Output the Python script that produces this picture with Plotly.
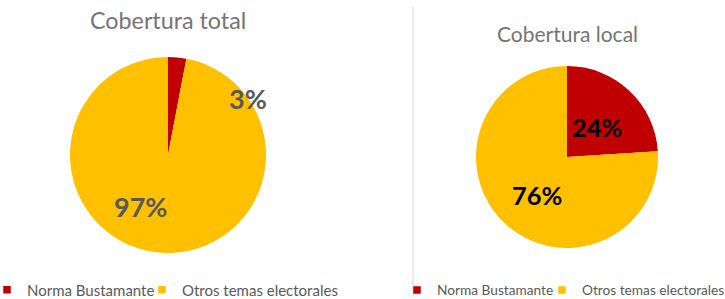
import math
import plotly.graph_objects as go

# ---- data ----
categories = ["Norma Bustamante", "Otros temas electorales"]
total_values = [3, 97]
local_values = [24, 76]
chart_titles = ["Cobertura total", "Cobertura local"]

# ---- style / layout ----
W, H = 725, 299
colors = ["#C00000", "#FFC000"]
FONT = "Lato"
# pie geometry in pixels (center x, center y from top, radius)
pies = [
    dict(cx=168, cy=155, r=98, values=total_values, title=chart_titles[0],
         title_y=20, title_size=23.3, label_color="#595959", label_size=27,
         label_nudge=[(1.0, 49.6), (0.59, 22.6)],
         legends=[("legend", -13), ("legend2", 142)], legend_font=15),
    dict(cx=567, cy=157, r=91, values=local_values, title=chart_titles[1],
         title_y=33, title_size=21, label_color="#000000", label_size=25.5,
         label_nudge=[(0.46, 1.8), (0.53, -5.2)],
         legends=[("legend3", 397), ("legend4", 542)], legend_font=13.7),
]
LEGEND_Y = 290

fig = go.Figure()
annotations = []
legend_layout = {}
for p in pies:
    dom_x = [(p["cx"] - p["r"]) / W, (p["cx"] + p["r"]) / W]
    dom_y = [1 - (p["cy"] + p["r"]) / H, 1 - (p["cy"] - p["r"]) / H]
    fig.add_trace(go.Pie(
        labels=categories, values=p["values"], sort=False,
        direction="clockwise", rotation=0,
        marker=dict(colors=colors, line=dict(width=0)),
        textinfo="none", hoverinfo="label+percent",
        domain=dict(x=dom_x, y=dom_y), showlegend=False,
    ))
    # legend entries (one legend box per category so each can be placed)
    for cat, col, (lg, lx) in zip(categories, colors, p["legends"]):
        fig.add_trace(go.Scatter(
            x=[None], y=[None], mode="markers", name=cat, legend=lg,
            marker=dict(symbol="square", size=7.5, color=col),
            hoverinfo="skip",
        ))
        legend_layout[lg] = dict(
            x=lx / W, y=1 - LEGEND_Y / H, xanchor="left", yanchor="middle",
            orientation="h", bgcolor="rgba(0,0,0,0)",
            font=dict(family=FONT, size=p["legend_font"], color="#595959"),
        )
    # title
    annotations.append(dict(
        text=p["title"], x=p["cx"] / W, y=1 - p["title_y"] / H,
        xref="paper", yref="paper", showarrow=False,
        xanchor="center", yanchor="middle",
        font=dict(family=FONT, size=p["title_size"], color="#757575"),
    ))
    # percent labels, placed from slice mid-angles
    tot = sum(p["values"])
    start = 0.0
    for v, (rf, nudge) in zip(p["values"], p["label_nudge"]):
        mid = (start + v / 2) / tot * 360.0
        start += v
        a = math.radians(mid + nudge)
        px = p["cx"] + rf * p["r"] * math.sin(a)
        py = p["cy"] - rf * p["r"] * math.cos(a)
        annotations.append(dict(
            text=f"<b>{round(v / tot * 100)}%</b>", x=px / W, y=1 - py / H,
            xref="paper", yref="paper", showarrow=False,
            xanchor="center", yanchor="middle",
            font=dict(family=FONT, size=p["label_size"], color=p["label_color"]),
        ))

fig.update_layout(
    width=W, height=H,
    margin=dict(l=0, r=0, t=0, b=0, autoexpand=False),
    paper_bgcolor="white", plot_bgcolor="white",
    showlegend=True,
    xaxis=dict(visible=False), yaxis=dict(visible=False),
    annotations=annotations,
    shapes=[dict(type="line", xref="paper", yref="paper",
                 x0=413 / W, x1=413 / W, y0=1 - 297 / H, y1=1 - 7 / H,
                 line=dict(color="#D9D9D9", width=1))],
    **legend_layout,
)

fig.write_html(
    "out.html",
    config={"displayModeBar": False},
    post_script="document.body.style.margin='0';document.body.style.overflow='hidden';",
)
